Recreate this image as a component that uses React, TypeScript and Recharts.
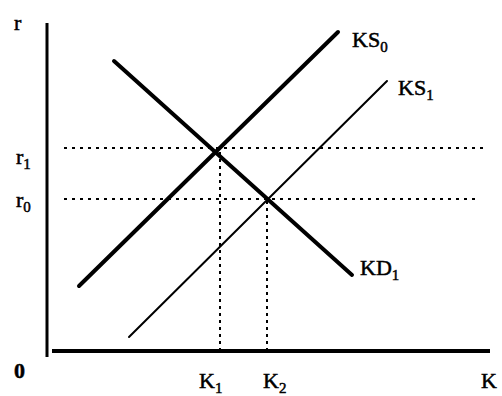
import React from 'react'
import { LineChart, Line, XAxis, YAxis, ReferenceLine } from 'recharts'

// capital supply / demand, in plot units (K right, r up)
const ks0 = [
  { k: 32, r: 65 },
  { k: 291, r: 319 },
]
const ks1 = [
  { k: 82, r: 14 },
  { k: 340, r: 270 },
]
const kd1 = [
  { k: 67, r: 290 },
  { k: 305, r: 76 },
]

const rTicks = [0, 152, 203, 328]
const rTickLabels = ['0', 'r0', 'r1', 'r']
const kTicks = [173, 220, 443]
const kTickLabels = ['K1', 'K2', 'K']

// equilibrium guides
const r1 = 203
const r0 = 152
const k1 = 173
const k2 = 220

const FONT = '"Liberation Serif", "Times New Roman", serif'

function SubText({ x, y, main, sub, size = 22, weight = 'normal' }: {
  x: number
  y: number
  main: string
  sub?: string
  size?: number
  weight?: string
}) {
  return (
    <text
      x={x}
      y={y}
      fontFamily={FONT}
      fontSize={size}
      fontWeight={weight}
      fill="#000"
      stroke="#000"
      strokeWidth={0.5}
    >
      <tspan>{main}</tspan>
      {sub ? (
        <tspan fontSize={15} dy={5}>
          {sub}
        </tspan>
      ) : null}
    </text>
  )
}

function splitLabel(s: string) {
  const m = s.match(/^(\D+)(\d*)$/)
  if (!m) return { main: s, sub: '' }
  return { main: m[1], sub: m[2] }
}

// y offsets of the r labels relative to their tick
const rLabelDy: Record<string, number> = { '0': 27, r0: 8, r1: 16, r: 7 }

function RTick(props: any) {
  const { y, payload } = props
  const label = rTickLabels[rTicks.indexOf(payload.value)]
  if (label === '0') {
    return <SubText x={14} y={y + rLabelDy[label]} main="0" size={22} weight="bold" />
  }
  const { main, sub } = splitLabel(label)
  return <SubText x={label === 'r' ? 14 : 16} y={y + rLabelDy[label]} main={main} sub={sub} />
}

const kLabelDx: Record<string, number> = { K1: -21, K2: -4, K: -9 }

function KTick(props: any) {
  const { x, payload } = props
  const label = kTickLabels[kTicks.indexOf(payload.value)]
  const { main, sub } = splitLabel(label)
  return <SubText x={x + kLabelDx[label]} y={388} main={main} sub={sub} />
}

function endLabel(text: string, dx: number, dy: number, last: number) {
  return (p: any) => {
    if (p.index !== last) return <g />
    const { main, sub } = splitLabel(text)
    return <SubText x={p.x + dx} y={p.y + dy} main={main} sub={sub} />
  }
}

export default function App() {
  return (
    <div style={{ width: 502, height: 396, background: '#fff' }}>
      <style>{'body{margin:0}'}</style>
      <LineChart width={502} height={396} margin={{ top: 23, right: 12, bottom: 0, left: 0 }}>
        <XAxis
          type="number"
          dataKey="k"
          domain={[0, 443]}
          ticks={kTicks}
          tick={<KTick />}
          axisLine={false}
          tickLine={false}
          height={45}
          interval={0}
        />
        <YAxis
          type="number"
          dataKey="r"
          domain={[0, 328]}
          ticks={rTicks}
          tick={<RTick />}
          axisLine={false}
          tickLine={false}
          width={47}
          interval={0}
        />

        {/* axes drawn by hand: r axis runs a little below the K axis */}
        <ReferenceLine
          segment={[{ x: 0, y: -6 }, { x: 0, y: 328 }]}
          stroke="#000"
          strokeWidth={3}
          ifOverflow="visible"
        />
        <ReferenceLine
          segment={[{ x: 5, y: 0 }, { x: 443, y: 0 }]}
          stroke="#000"
          strokeWidth={4}
          ifOverflow="visible"
        />

        {/* dotted guides */}
        <ReferenceLine
          segment={[{ x: 17, y: r1 }, { x: 437, y: r1 }]}
          stroke="#000"
          strokeWidth={2}
          strokeDasharray="3 5"
          ifOverflow="visible"
        />
        <ReferenceLine
          segment={[{ x: 17, y: r0 }, { x: 429, y: r0 }]}
          stroke="#000"
          strokeWidth={2}
          strokeDasharray="3 5"
          ifOverflow="visible"
        />
        <ReferenceLine
          segment={[{ x: k1, y: 0 }, { x: k1, y: r1 }]}
          stroke="#000"
          strokeWidth={2}
          strokeDasharray="3 4"
          ifOverflow="visible"
        />
        <ReferenceLine
          segment={[{ x: k2, y: 0 }, { x: k2, y: r0 }]}
          stroke="#000"
          strokeWidth={2}
          strokeDasharray="3 4"
          ifOverflow="visible"
        />

        <Line
          data={ks0}
          dataKey="r"
          type="linear"
          stroke="#000"
          strokeWidth={4}
          strokeLinecap="round"
          dot={false}
          isAnimationActive={false}
          label={endLabel('KS0', 14, 15, ks0.length - 1)}
        />
        <Line
          data={ks1}
          dataKey="r"
          type="linear"
          stroke="#000"
          strokeWidth={2}
          strokeLinecap="round"
          dot={false}
          isAnimationActive={false}
          label={endLabel('KS1', 11, 14, ks1.length - 1)}
        />
        <Line
          data={kd1}
          dataKey="r"
          type="linear"
          stroke="#000"
          strokeWidth={4}
          strokeLinecap="round"
          dot={false}
          isAnimationActive={false}
          label={endLabel('KD1', 8, 0, kd1.length - 1)}
        />
      </LineChart>
    </div>
  )
}
